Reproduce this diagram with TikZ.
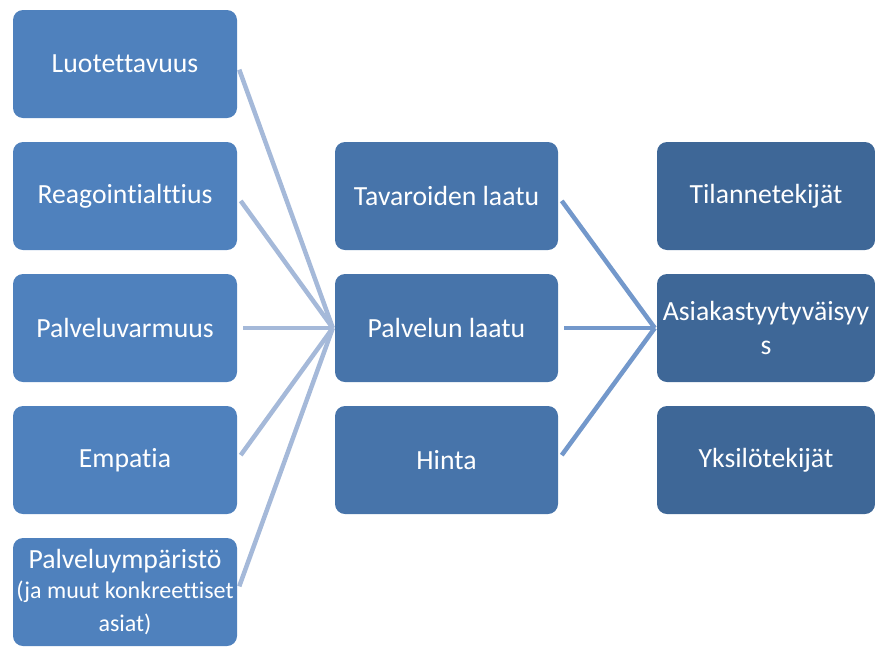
\documentclass[tikz,border=0pt]{standalone}
\usepackage{fontspec}
\setmainfont[Ligatures={NoCommon}]{Carlito}
\definecolor{boxL}{HTML}{4F81BD}
\definecolor{boxM}{HTML}{4774AA}
\definecolor{boxR}{HTML}{3E6797}
\definecolor{lineL}{HTML}{A5B9D9}
\definecolor{lineR}{HTML}{7398CB}
\tikzset{
  card/.style={rounded corners=10pt, text=white, align=center, inner sep=0pt,
    minimum height=108pt, font=\fontsize{27.7}{33.8}\selectfont},
  cardL/.style={card, fill=boxL, minimum width=224pt},
  cardM/.style={card, fill=boxM, minimum width=223pt},
  cardR/.style={card, fill=boxR, minimum width=218pt},
  linkL/.style={draw=lineL, line width=4.5pt, shorten <=6pt},
  linkR/.style={draw=lineR, line width=4.5pt, shorten <=6pt},
}
\begin{document}
\begin{tikzpicture}[x=1pt,y=-1pt]
\useasboundingbox (0,0) rectangle (875,646);
\node[cardL] (l1) at (125,64) {Luotettavuus};
\node[cardL] (l2) at (125,196) {Reagointialttius};
\node[cardL] (l3) at (125,328) {Palveluvarmuus};
\node[cardL] (l4) at (125,460) {Empatia};
\node[cardL] (l5) at (125,592) {Palveluympäristö\\[-3pt]{\fontsize{24}{31}\selectfont (ja muut konkreettiset}\\[-1pt]{\fontsize{24}{31}\selectfont asiat)}};
\node[cardM] (m1) at (446.5,196) {Tavaroiden laatu};
\node[cardM] (m2) at (446.5,328) {Palvelun laatu};
\node[cardM] (m3) at (446.5,460) {Hinta};
\node[cardR] (r1) at (766,196) {Tilannetekijät};
\node[cardR] (r2) at (766,328) {Asiakastyytyväisyy\\s};
\node[cardR] (r3) at (766,460) {Yksilötekijät};
\coordinate (hubL) at ([xshift=-2pt]m2.west);
\coordinate (hubR) at ([xshift=-2pt]r2.west);
\foreach \n in {l1,l2,l3,l4,l5} \draw[linkL] (\n.east) -- (hubL);
\foreach \n in {m1,m2,m3} \draw[linkR] (\n.east) -- (hubR);
\end{tikzpicture}
\end{document}
